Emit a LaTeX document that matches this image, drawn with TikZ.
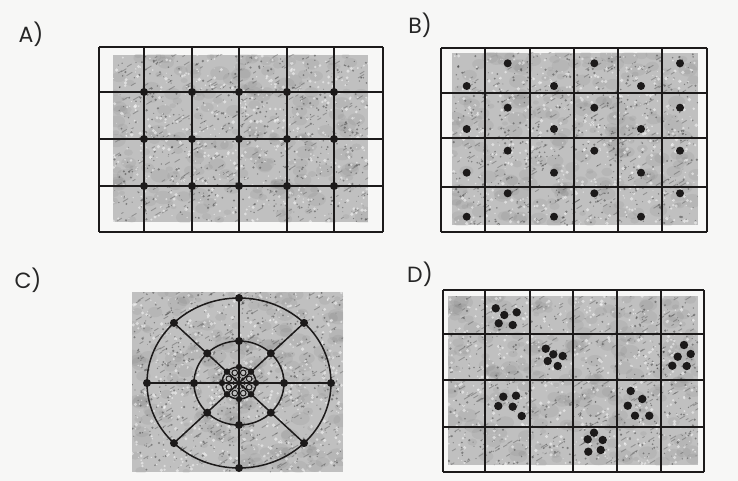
\documentclass[tikz,border=0pt]{standalone}
\usepackage{fontspec}
\setmainfont{Poppins}
\definecolor{paper}{RGB}{247,247,246}
\definecolor{texbase}{RGB}{192,192,192}
\definecolor{texdark}{RGB}{60,60,60}
\definecolor{ink}{RGB}{28,26,26}
\newcommand\mytexture[5]{%
  \fill[texbase] (#1,#2) rectangle (#3,#4);
  \pgfmathsetseed{#5}
  \begin{scope}
  \clip (#1,#2) rectangle (#3,#4);
  \foreach \k in {1,...,220}{
    \pgfmathsetmacro\rx{#1+rnd*(#3-#1)}
    \pgfmathsetmacro\ry{#2+rnd*(#4-#2)}
    \pgfmathsetmacro\rr{2+rnd*5}
    \fill[texdark, opacity=0.07] (\rx,\ry) ellipse ({1.4*\rr} and {\rr});
  }
  \foreach \k in {1,...,220}{
    \pgfmathsetmacro\rx{#1+rnd*(#3-#1)}
    \pgfmathsetmacro\ry{#2+rnd*(#4-#2)}
    \pgfmathsetmacro\rl{2+rnd*4}
    \draw[texdark, line width=0.9pt, opacity=0.35] (\rx,\ry) -- ++(\rl,-0.6*\rl);
  }
  \foreach \k in {1,...,550}{
    \pgfmathsetmacro\rx{#1+rnd*(#3-#1)}
    \pgfmathsetmacro\ry{#2+rnd*(#4-#2)}
    \pgfmathsetmacro\rr{0.4+rnd*0.9}
    \fill[texdark, opacity=0.5] (\rx,\ry) circle (\rr);
  }
  \foreach \k in {1,...,500}{
    \pgfmathsetmacro\rx{#1+rnd*(#3-#1)}
    \pgfmathsetmacro\ry{#2+rnd*(#4-#2)}
    \pgfmathsetmacro\rr{0.5+rnd*1.4}
    \fill[white, opacity=0.5] (\rx,\ry) circle (\rr);
  }
  \end{scope}
}
\begin{document}
\begin{tikzpicture}[x=1pt,y=-1pt,
  gridline/.style={line width=1.5pt, ink},
  dot/.style={fill=ink},
  lbl/.style={font=\fontsize{22}{24}\selectfont, text=black!85, inner sep=0pt}]
\fill[paper] (0,0) rectangle (738,481);
\useasboundingbox (0,0) rectangle (738,481);

% ---------------- A ----------------
\node[lbl] (labA) at (31,34) {A)};
\mytexture{113}{55}{368}{222}{11}
\foreach \x in {99,144,192,239,287,334,383}
  \draw[gridline] (\x,47) -- (\x,232);
\foreach \y in {47,92,139,186,232}
  \draw[gridline] (99,\y) -- (383,\y);
\foreach \x in {144,192,239,287,334}
  \foreach \y in {92,139,186}
    \fill[dot] (\x,\y) circle (4);

% ---------------- B ----------------
\node[lbl] (labB) at (420,25) {B)};
\mytexture{452}{53}{698}{225}{23}
\foreach \x in {441,485,530,574,618,662,707}
  \draw[gridline] (\x,48) -- (\x,232);
\foreach \y in {48,93,138,187,232}
  \draw[gridline] (441,\y) -- (707,\y);
\foreach \x in {466.7,554,641}
  \foreach \y in {86,129,172.7,216.7}
    \fill[dot] (\x,\y) circle (4);
\foreach \x in {507.7,594.3,680}
  \foreach \y in {63.3,107.7,150.7,193.3}
    \fill[dot] (\x,\y) circle (4);

% ---------------- C ----------------
\node[lbl] (labC) at (28,280) {C)};
\mytexture{132}{292}{343}{472}{37}
\coordinate (Cc) at (239,383);
\begin{scope}[shift={(Cc)}]
  \draw[gridline] (0,0) ellipse (92 and 85);
  \draw[gridline] (0,0) ellipse (45 and 42);
  \draw[gridline] (0,0) ellipse (17 and 16);
  \foreach \a in {0,45,...,315}
    \draw[gridline] (0,0) -- (\a:92 and 85);
  \foreach \a in {0,45,...,315}{
    \fill[dot] (\a:92 and 85) circle (4);
    \fill[dot] (\a:45 and 42) circle (4);
    \fill[dot] (\a:17 and 16) circle (3.2);
    \fill[dot] (\a:5.5) circle (1.8);
  }
  \foreach \a in {22.5,67.5,...,337.5}
    \filldraw[fill=texbase, draw=ink, line width=1pt] (\a:11) circle (2.8);
  \fill[dot] (0,0) circle (2);
\end{scope}

% ---------------- D ----------------
\node[lbl] (labD) at (420,274) {D)};
\mytexture{448}{296}{698}{465}{41}
\foreach \x in {443,485,530,573,617,661,704}
  \draw[gridline] (\x,290) -- (\x,472);
\foreach \y in {290,334,380,427,472}
  \draw[gridline] (443,\y) -- (704,\y);
\foreach \p in {(495.7,308.3),(504.3,315),(516.7,312.3),(498.7,323.3),(512.7,325),
  (545.7,348.7),(553.3,354.3),(562.7,356),(547.7,361),(557.7,366),
  (684,345),(690.7,354),(677.7,356.7),(672.3,365.7),(686.7,366),
  (503.3,396.7),(516,395.7),(498.3,406),(512.7,406.7),(521.7,416),
  (630.7,391),(642.3,399),(627.7,405.7),(635,415.7),(649.3,415.7),
  (594,432.7),(587.7,439.3),(602.7,440),(588.3,451.7),(600.7,450)}
  \fill[dot] \p circle (4.2);
\end{tikzpicture}
\end{document}
